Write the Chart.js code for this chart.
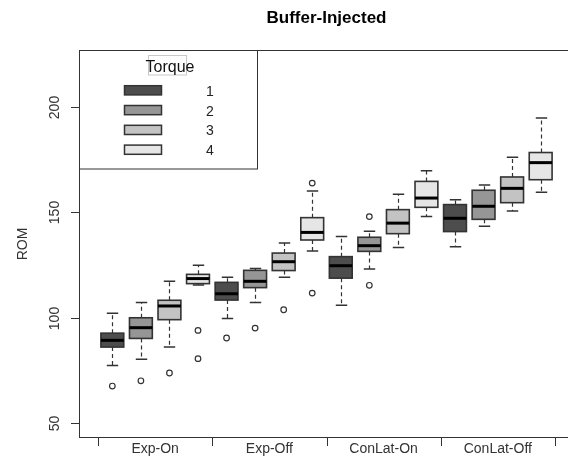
<!DOCTYPE html>
<html>
<head>
<meta charset="utf-8">
<title>Buffer-Injected</title>
<script src="https://cdn.jsdelivr.net/npm/chart.js@4/dist/chart.umd.min.js"></script>
<style>
  html, body { margin: 0; padding: 0; overflow: hidden; background: #fff; }
  #wrap { width: 580px; height: 462px; }
</style>
</head>
<body>
<div id="wrap"><canvas id="c" width="580" height="462"></canvas></div>
<script>
// Range of motion by condition and torque level
const categories = ['Exp-On', 'Exp-Off', 'ConLat-On', 'ConLat-Off'];
const torqueLevels = ['1', '2', '3', '4'];

// Box summaries, one entry per box: condition by condition, torque 1 -> 4 inside each
const whiskerLow  = [77.3, 80.3, 86.1, 115.6,  99.7, 107.2, 119.2, 131.7,  105.9, 123.1, 133.3, 148.0,  133.7, 143.4, 150.6, 159.5];
const quartile1   = [86.1, 90.2, 99.1, 116.2, 108.4, 114.3, 122.4, 136.9,  118.8, 131.5, 139.9, 152.4,  140.9, 146.7, 154.6, 165.5];
const medians     = [89.3, 95.3, 105.6, 118.6, 111.4, 117.3, 126.6, 140.5, 124.7, 134.2, 144.9, 156.8,  147.2, 152.9, 161.4, 173.6];
const quartile3   = [92.7, 100.0, 108.3, 120.6, 116.8, 122.5, 130.7, 147.5, 129.0, 138.2, 151.3, 164.7, 153.7, 160.5, 166.8, 178.4];
const whiskerHigh = [102.2, 107.2, 117.3, 124.9, 119.2, 123.4, 135.5, 160.1, 138.6, 141.1, 158.6, 169.8, 156.0, 163.0, 176.1, 194.8];

// Outlying observations: box number (1-based) and value
const outlierBox   = [1, 2, 3, 4, 4, 5, 6, 7, 8, 8, 10, 10];
const outlierValue = [67.6, 70.1, 73.8, 94.0, 80.6, 90.4, 95.1, 103.8, 163.9, 111.7, 148.0, 115.4];

const yTicks = [50, 100, 150, 200];

const torqueColors = ['#4D4D4D', '#969696', '#C3C3C3', '#E6E6E6'];
const ink = '#333333';
const FONT = "'Liberation Sans', Arial, sans-serif";

const boxParts = {
  id: 'boxParts',
  beforeDatasetsDraw(chart) {
    // dashed whiskers with solid staples
    const { ctx, chartArea } = chart;
    const ys = chart.scales.y;
    const bars = chart.getDatasetMeta(0).data;
    ctx.save();
    ctx.beginPath();
    ctx.rect(chartArea.left, chartArea.top, chartArea.right - chartArea.left, chartArea.bottom - chartArea.top);
    ctx.clip();
    ctx.strokeStyle = ink;
    bars.forEach((bar, i) => {
      const cx = Math.round(bar.x) + 0.5;
      const cap = bar.width / 4;
      const yLo = ys.getPixelForValue(whiskerLow[i]);
      const yQ1 = ys.getPixelForValue(quartile1[i]);
      const yQ3 = ys.getPixelForValue(quartile3[i]);
      const yHi = ys.getPixelForValue(whiskerHigh[i]);
      ctx.lineWidth = 1.2;
      ctx.setLineDash([4, 3]);
      ctx.beginPath();
      ctx.moveTo(cx, yQ3); ctx.lineTo(cx, yHi);
      ctx.moveTo(cx, yQ1); ctx.lineTo(cx, yLo);
      ctx.stroke();
      ctx.setLineDash([]);
      ctx.lineWidth = 1.5;
      ctx.beginPath();
      ctx.moveTo(cx - cap, yHi); ctx.lineTo(cx + cap, yHi);
      ctx.moveTo(cx - cap, yLo); ctx.lineTo(cx + cap, yLo);
      ctx.stroke();
    });
    ctx.restore();
  },
  afterDatasetsDraw(chart) {
    // box outlines and medians
    const { ctx } = chart;
    const ys = chart.scales.y;
    const bars = chart.getDatasetMeta(0).data;
    ctx.save();
    bars.forEach((bar, i) => {
      const half = bar.width / 2;
      const yQ1 = ys.getPixelForValue(quartile1[i]);
      const yQ3 = ys.getPixelForValue(quartile3[i]);
      const yMed = ys.getPixelForValue(medians[i]);
      ctx.strokeStyle = ink;
      ctx.lineWidth = 1.6;
      ctx.strokeRect(bar.x - half, yQ3, bar.width, yQ1 - yQ3);
      ctx.strokeStyle = '#000';
      ctx.lineWidth = 3;
      ctx.beginPath();
      ctx.moveTo(bar.x - half, yMed); ctx.lineTo(bar.x + half, yMed);
      ctx.stroke();
    });
    ctx.restore();
  },
  afterDraw(chart) {
    const { ctx, chartArea } = chart;
    const xs = chart.scales.x, ys = chart.scales.y;
    const L = chartArea.left, R = chartArea.right, T = chartArea.top, B = chartArea.bottom;
    ctx.save();

    // frame
    ctx.strokeStyle = ink;
    ctx.lineWidth = 1;
    ctx.strokeRect(L, T, R - L, B - T);

    // y axis ticks and rotated labels
    ctx.fillStyle = ink;
    ctx.font = '14px ' + FONT;
    yTicks.forEach(v => {
      const py = Math.round(ys.getPixelForValue(v)) + 0.5;
      ctx.beginPath();
      ctx.moveTo(L - 8.5, py); ctx.lineTo(L, py);
      ctx.stroke();
      ctx.save();
      ctx.translate(59, py);
      ctx.rotate(-Math.PI / 2);
      ctx.textAlign = 'center';
      ctx.textBaseline = 'alphabetic';
      ctx.fillText(String(v), 0, 0);
      ctx.restore();
    });

    // y axis title
    ctx.save();
    ctx.translate(26.5, (T + B) / 2);
    ctx.rotate(-Math.PI / 2);
    ctx.textAlign = 'center';
    ctx.textBaseline = 'alphabetic';
    ctx.fillText('ROM', 0, 0);
    ctx.restore();

    // x axis: ticks at group boundaries, labels at group centres
    for (let g = 0; g <= categories.length; g++) {
      const px = Math.round(xs.getPixelForValue(0.5 + g * torqueLevels.length)) + 0.5;
      ctx.beginPath();
      ctx.moveTo(px, B); ctx.lineTo(px, B + 8.5);
      ctx.stroke();
    }
    ctx.textAlign = 'center';
    ctx.textBaseline = 'alphabetic';
    categories.forEach((c, g) => {
      const px = xs.getPixelForValue(0.5 + g * torqueLevels.length + torqueLevels.length / 2);
      ctx.fillText(c, px, 453);
    });

    // main title
    ctx.fillStyle = '#000';
    ctx.font = 'bold 17px ' + FONT;
    ctx.fillText('Buffer-Injected', (L + R) / 2, 22.5);

    // legend
    const lx = L, ly = T, lw = 178, lh = 118.5;
    ctx.fillStyle = '#fff';
    ctx.fillRect(lx, ly, lw, lh);
    ctx.strokeStyle = ink;
    ctx.lineWidth = 1;
    ctx.strokeRect(lx, ly, lw, lh);
    ctx.strokeStyle = '#c8c8c8';
    ctx.strokeRect(148.5, 55.5, 38, 19.5);
    ctx.fillStyle = '#111';
    ctx.font = '16px ' + FONT;
    ctx.fillText('Torque', 170, 71.5);
    ctx.font = '14px ' + FONT;
    torqueLevels.forEach((t, k) => {
      const cy = 90.3 + k * 19.8;
      ctx.fillStyle = torqueColors[k];
      ctx.fillRect(124.5, cy - 4.6, 37, 9.2);
      ctx.strokeStyle = ink;
      ctx.lineWidth = 1.5;
      ctx.strokeRect(124.5, cy - 4.6, 37, 9.2);
      ctx.fillStyle = '#222';
      ctx.fillText(t, 210, cy + 5.5);
    });

    ctx.restore();
  }
};

new Chart(document.getElementById('c'), {
  type: 'bar',
  data: {
    datasets: [
      {
        label: 'boxes',
        data: quartile1.map((q, i) => ({ x: i + 1, y: [q, quartile3[i]] })),
        backgroundColor: quartile1.map((_, i) => torqueColors[i % torqueLevels.length]),
        borderWidth: 0,
        categoryPercentage: 1,
        barPercentage: 0.8
      },
      {
        type: 'scatter',
        label: 'outliers',
        data: outlierBox.map((b, k) => ({ x: b, y: outlierValue[k] })),
        pointRadius: 2.8,
        pointBackgroundColor: 'rgba(0,0,0,0)',
        pointBorderColor: ink,
        pointBorderWidth: 1.2
      }
    ]
  },
  options: {
    responsive: false,
    animation: false,
    devicePixelRatio: 1,
    layout: { padding: { left: 79.5, right: 6.5, top: 50.5, bottom: 24.5 } },
    scales: {
      x: { type: 'linear', min: -0.15, max: 17.15, offset: false, display: false },
      y: { type: 'linear', min: 43.2, max: 226.8, display: false }
    },
    plugins: {
      legend: { display: false },
      tooltip: { enabled: false },
      title: { display: false }
    }
  },
  plugins: [boxParts]
});
</script>
</body>
</html>
